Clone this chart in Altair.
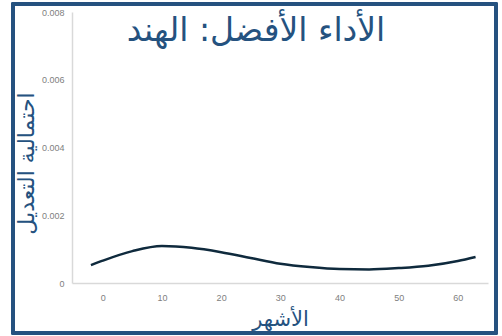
import altair as alt
import pandas as pd

months = [-2, 0, 5, 10, 15, 20, 25, 30, 35, 40, 45, 50, 55, 60, 63]
prob = [0.00053, 0.00066, 0.00094, 0.00109, 0.00104, 0.00091, 0.00074, 0.00057,
        0.00047, 0.00041, 0.00040, 0.00044, 0.00051, 0.00065, 0.00077]
x_ticks = [0, 10, 20, 30, 40, 50, 60]
y_ticks = [0, 0.002, 0.004, 0.006, 0.008]
title_text = "الأداء الأفضل: الهند"

df = pd.DataFrame({"m": months, "p": prob})
BLUE = "#25527f"
FONT = "DejaVu Sans"

line = alt.Chart(df).mark_line(interpolate="monotone", color="#0f2a3d", strokeWidth=2.5).encode(
    x=alt.X("m:Q", scale=alt.Scale(domain=[-5.2, 65.1], nice=False, zero=False),
            axis=alt.Axis(values=x_ticks, title="الأشهر", grid=False, ticks=False,
                          domainColor="#d9d9d9", domainWidth=1.5,
                          labelColor="#808080", labelFontSize=9, labelPadding=10,
                          titleColor=BLUE, titleFontSize=21, titleFont=FONT,
                          titleFontWeight="normal", titlePadding=6)),
    y=alt.Y("p:Q", scale=alt.Scale(domain=[0, 0.008], nice=False),
            axis=alt.Axis(values=y_ticks, format=".3~f", title="احتمالية التعديل", grid=False,
                          ticks=False, domainColor="#d9d9d9", domainWidth=1.5,
                          labelColor="#808080", labelFontSize=9, labelPadding=8,
                          titleColor=BLUE, titleFontSize=22, titleFont=FONT,
                          titleFontWeight="normal", titlePadding=3, titleY=151)),
)

frame = alt.Chart(df).mark_rect(fill=None, stroke=BLUE, strokeWidth=2.5).encode(
    x=alt.value(-59), x2=alt.value(424), y=alt.value(-8), y2=alt.value(321)
)

title = alt.Chart(pd.DataFrame({"t": [title_text]})).mark_text(
    color=BLUE, font=FONT, fontSize=33, baseline="middle", align="center"
).encode(text="t:N", x=alt.value(184), y=alt.value(19))

chart = alt.layer(frame, line, title).properties(
    width=416, height=271,
    padding={"left": 72, "top": 12, "right": 14, "bottom": 53},
    autosize=alt.AutoSizeParams(type="none"),
).configure_view(stroke=None).configure_axis(labelFont="Liberation Sans")

chart.save("out.html", embed_options={"renderer": "svg", "actions": False})
